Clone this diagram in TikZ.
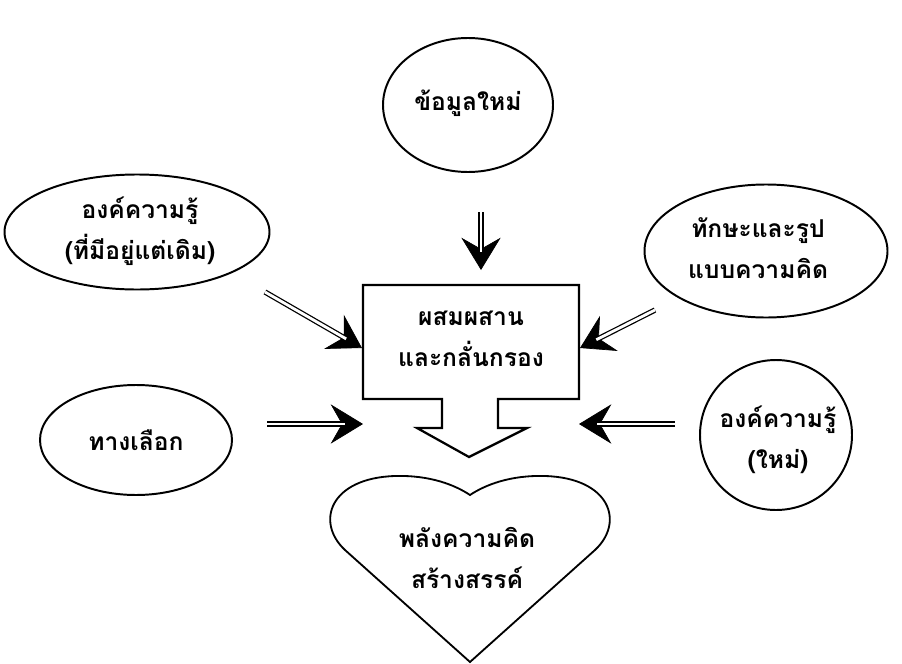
\documentclass[tikz,border=0pt]{standalone}
\usepackage{fontspec}
\newfontfamily\thaifont[Script=Thai]{Loma}
\usetikzlibrary{arrows.meta,shapes.geometric}

\tikzset{
    thaitext/.style={font=\thaifont\bfseries\fontsize{17.5}{29}\selectfont, align=center},
    bubble/.style={draw, ellipse, line width=1.4pt, inner sep=0pt},
    tiparrow/.style={line width=0.5pt, -{Stealth[length=23pt, width=28pt, inset=8pt]}},
    dblline/.style={double, double distance=2pt, line width=0.9pt, shorten >=13pt}
}

\begin{document}
\begin{tikzpicture}[x=0.025cm, y=-0.025cm]
    \useasboundingbox (0,0) rectangle (902,664);

    \node[bubble, minimum width=170*0.025cm, minimum height=134*0.025cm] (newdata) at (468,105) {};
    \node[bubble, minimum width=265*0.025cm, minimum height=115*0.025cm] (oldknow) at (137,232) {};
    \node[bubble, minimum width=243*0.025cm, minimum height=133*0.025cm] (skills) at (766,251) {};
    \node[bubble, minimum width=192*0.025cm, minimum height=110*0.025cm] (choice) at (136,440) {};
    \node[bubble, minimum width=152*0.025cm, minimum height=150*0.025cm] (newknow) at (776,435) {};

    \node[thaitext] (newdatatext) at (468,103) {ข้อมูลใหม่};
    \node[thaitext] (oldknowtext) at (140,231) {องค์ความรู้\\(ที่มีอยู่แต่เดิม)};
    \node[thaitext] (skillstext) at (758,248) {ทักษะและรูป\\แบบความคิด};
    \node[thaitext] (choicetext) at (136,440) {ทางเลือก};
    \node[thaitext] (newknowtext) at (778,440) {องค์ความรู้\\(ใหม่)};

    % box with the block arrow under it
    \draw[line width=1.6pt, line join=miter] (363,285) -- (579,285) -- (579,399) -- (498,399) -- (498,428) -- (527,428)
        -- (469,457) -- (417,428) -- (442,428) -- (442,399) -- (363,399) -- cycle;
    \node[thaitext] (mix) at (471,339) {ผสมผสาน\\และกลั่นกรอง};

    % heart
    \draw[line width=1.3pt] (470,662) -- (345,550) .. controls (315,522) and (330,478) .. (395,476)
        .. controls (430,475) and (455,485) .. (470,495)
        .. controls (485,485) and (510,475) .. (545,476)
        .. controls (610,478) and (625,522) .. (595,550) -- cycle;
    \node[thaitext] (power) at (467,558) {พลังความคิด\\สร้างสรรค์};

    \coordinate (ts) at (481,212);  \coordinate (te) at (481,270);
    \coordinate (uls) at (265,292); \coordinate (ule) at (362,348);
    \coordinate (urs) at (655,310); \coordinate (ure) at (580,348);
    \coordinate (lls) at (267,424); \coordinate (lle) at (363,424);
    \coordinate (lrs) at (675,424); \coordinate (lre) at (579,424);

    \foreach \s/\e in {ts/te, uls/ule, urs/ure, lls/lle, lrs/lre} {
        \draw[tiparrow] (\s) -- (\e);
        \draw[dblline] (\s) -- (\e);
    }
\end{tikzpicture}
\end{document}
